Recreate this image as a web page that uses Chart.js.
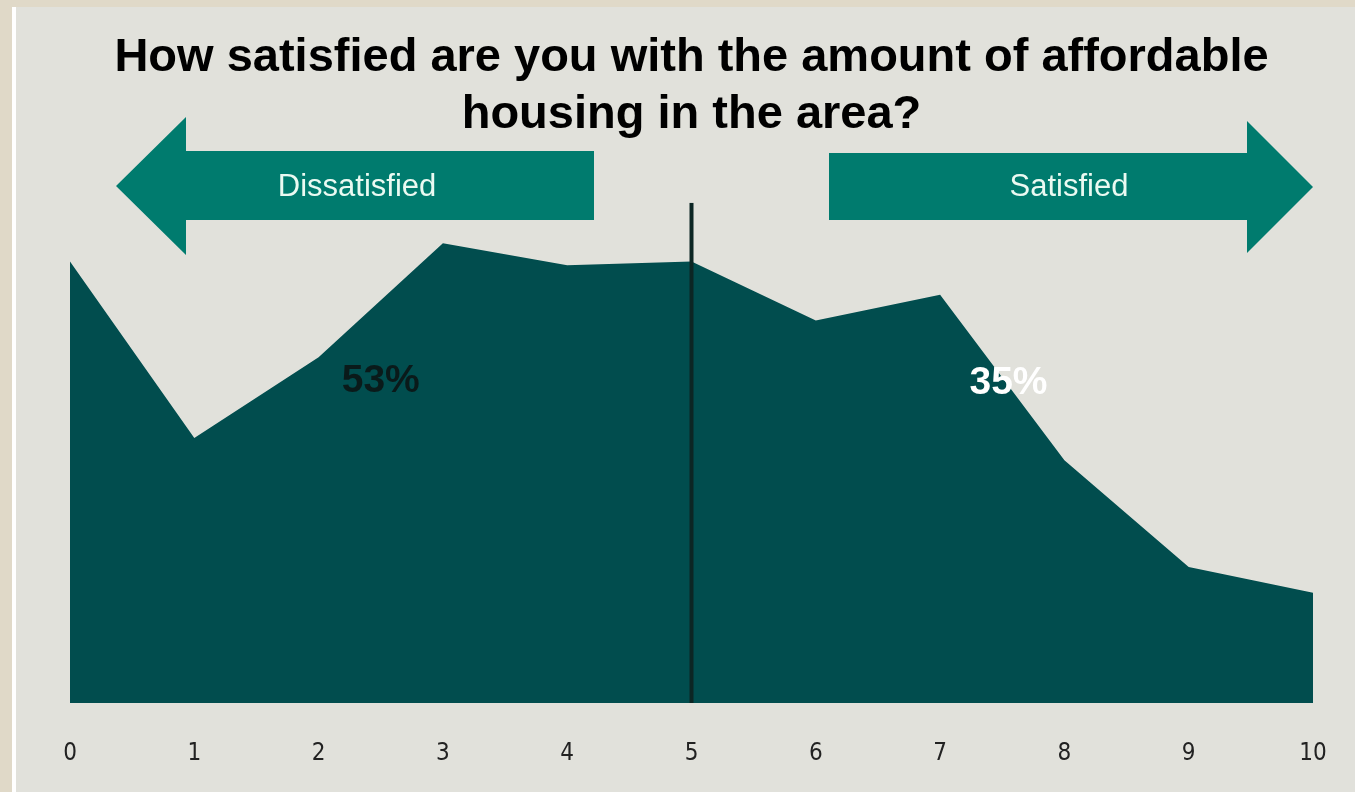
<!DOCTYPE html>
<html>
<head>
<meta charset="utf-8">
<script src="https://cdn.jsdelivr.net/npm/chart.js@4/dist/chart.umd.min.js"></script>
<style>
  body { margin: 0; background: #e0d9c8; }
  canvas { display: block; }
</style>
</head>
<body>
<canvas id="myChart" width="1355" height="792"></canvas>
<script>
const ctx = document.getElementById('myChart').getContext('2d');

// scores 0..10 and share of respondents (%)
const scores = [0, 1, 2, 3, 4, 5, 6, 7, 8, 9, 10];
const shares = [12.0, 7.2, 9.4, 12.5, 11.9, 12.0, 10.4, 11.1, 6.6, 3.7, 3.0];
const midScore = 5;
const sideLabels = ['Dissatisfied', 'Satisfied'];
const sideTotals = ['53%', '35%'];
const titleLines = ['How satisfied are you with the amount of affordable', 'housing in the area?'];
const yMax = 13.6;

const bgPlugin = {
    id: 'bg',
    beforeDraw(chart) {
        const c = chart.ctx;
        c.save();
        c.fillStyle = '#e0d9c8';
        c.fillRect(0, 0, chart.width, chart.height);
        c.fillStyle = '#ffffff';
        c.fillRect(12, 7, 4, chart.height - 7);
        c.fillStyle = '#e1e1db';
        c.fillRect(16, 7, chart.width - 16, chart.height - 7);
        c.restore();
    }
};

function arrow(c, pts, color) {
    c.beginPath();
    c.moveTo(pts[0][0], pts[0][1]);
    for (let i = 1; i < pts.length; i++) c.lineTo(pts[i][0], pts[i][1]);
    c.closePath();
    c.fillStyle = color;
    c.fill();
}

const overlayPlugin = {
    id: 'overlay',
    afterDatasetsDraw(chart) {
        const c = chart.ctx;
        const xs = chart.scales.x, ys = chart.scales.y;
        c.save();
        // arrows
        arrow(c, [[116, 186], [186, 117], [186, 151], [594, 151], [594, 220], [186, 220], [186, 255]], '#007b6e');
        arrow(c, [[1313, 187], [1247, 121], [1247, 153], [829, 153], [829, 220], [1247, 220], [1247, 253]], '#007b6e');
        c.fillStyle = '#eafaf2';
        c.font = '31px "Liberation Sans", Arial, sans-serif';
        c.textAlign = 'center';
        c.textBaseline = 'middle';
        c.fillText(sideLabels[0], 357, 187);
        c.fillText(sideLabels[1], 1069, 187);
        // side totals
        c.font = 'bold 39px "Liberation Sans", Arial, sans-serif';
        c.fillStyle = '#0a1a1a';
        c.fillText(sideTotals[0], xs.getPixelForValue(2.5), ys.getPixelForValue(8.75));
        c.fillStyle = '#ffffff';
        c.fillText(sideTotals[1], xs.getPixelForValue(7.55), ys.getPixelForValue(8.7));
        c.restore();
    }
};

const data = {
    datasets: [{
        label: 'Share',
        data: scores.map((s, i) => ({ x: s, y: shares[i] })),
        backgroundColor: '#014d4e',
        borderWidth: 0,
        pointRadius: 0,
        fill: 'origin',
        tension: 0,
        order: 2
    }, {
        label: 'Midpoint',
        data: [{ x: midScore, y: 0 }, { x: midScore, y: yMax }],
        borderColor: '#0c2624',
        borderWidth: 4,
        pointRadius: 0,
        fill: false,
        order: 1
    }]
};

const config = {
    type: 'line',
    data: data,
    options: {
        responsive: false,
        animation: false,
        layout: {
            padding: { left: 70, right: 42, top: 0, bottom: 0 }
        },
        plugins: {
            legend: { display: false },
            tooltip: { enabled: false },
            title: {
                display: true,
                text: titleLines,
                color: '#000000',
                font: { family: '"Liberation Sans", Arial, sans-serif', size: 47, weight: 'bold', lineHeight: 1.22 },
                padding: { top: 29, bottom: 59 }
            }
        },
        scales: {
            x: {
                type: 'linear',
                min: 0,
                max: 10,
                afterFit(scale) {
                    scale.height = 89;
                    scale.paddingLeft = 0;
                    scale.paddingRight = 0;
                },
                grid: { display: false, drawTicks: false },
                border: { display: false },
                ticks: {
                    stepSize: 1,
                    padding: 36,
                    color: '#222222',
                    font: { family: '"DejaVu Sans Condensed", "Liberation Sans Narrow", "Liberation Sans", sans-serif', size: 24 }
                }
            },
            y: {
                display: false,
                min: 0,
                max: yMax
            }
        }
    },
    plugins: [bgPlugin, overlayPlugin]
};

const myChart = new Chart(ctx, config);
</script>
</body>
</html>
